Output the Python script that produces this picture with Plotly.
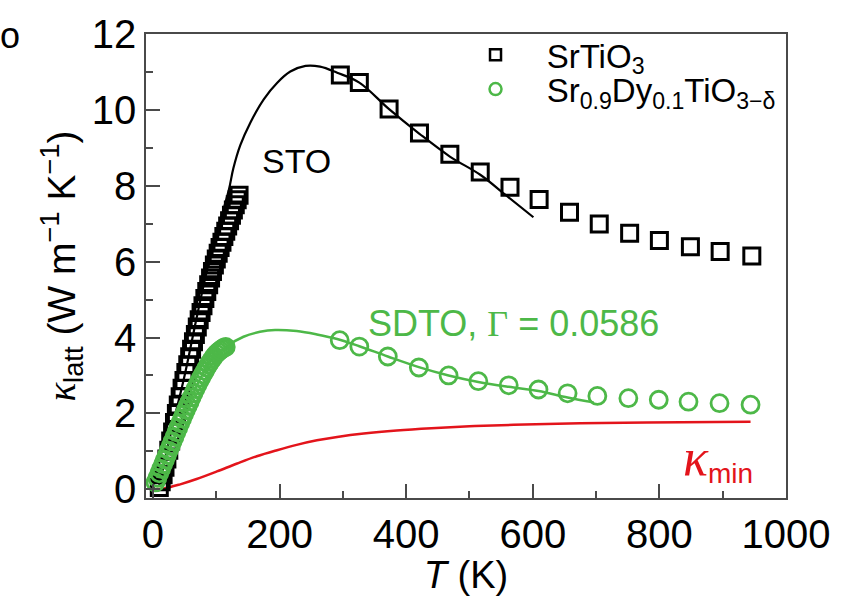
import plotly.graph_objects as go

# ---------------- data ----------------
sto_T_low = [10, 13, 16, 19, 22, 25, 28, 31, 34, 37, 40, 43, 46, 49, 52, 55, 58, 61, 64, 67,
             70, 73, 76, 79, 82, 85, 88, 91, 94, 97, 100, 103, 106, 109, 112, 115, 118, 121,
             124, 127, 130, 133, 136]
sto_k_low = [0.05, 0.2, 0.38, 0.58, 0.8, 1.03, 1.27, 1.51, 1.76, 2.0, 2.22, 2.44, 2.66, 2.87,
             3.08, 3.28, 3.49, 3.69, 3.89, 4.08, 4.28, 4.47, 4.66, 4.84, 5.03, 5.21, 5.39,
             5.57, 5.74, 5.91, 6.07, 6.22, 6.37, 6.51, 6.66, 6.8, 6.94, 7.08, 7.22, 7.36,
             7.5, 7.63, 7.75]
sto_T_high = [296, 326, 373, 421, 469, 517, 564, 610, 658, 705, 753, 800, 849, 896, 946]
sto_k_high = [10.92, 10.72, 10.02, 9.39, 8.83, 8.36, 7.96, 7.64, 7.30, 6.99, 6.75, 6.56,
              6.39, 6.27, 6.15]

sdto_T_low = [4, 7, 10, 13, 16, 19, 22, 25, 28, 31, 34, 37, 40, 43, 46, 49, 52, 55, 58, 61,
              64, 67, 70, 73, 76, 79, 82, 85, 88, 91, 94, 97, 100, 103, 106, 109, 112, 115]
sdto_k_low = [0.18, 0.3, 0.42, 0.54, 0.66, 0.78, 0.9, 1.02, 1.14, 1.26, 1.38, 1.5, 1.62,
              1.74, 1.86, 1.97, 2.09, 2.2, 2.31, 2.42, 2.53, 2.64, 2.74, 2.84, 2.94, 3.03,
              3.12, 3.21, 3.29, 3.37, 3.44, 3.51, 3.57, 3.62, 3.66, 3.7, 3.73, 3.75]
sdto_T_high = [295, 326, 371, 420, 467, 514, 562, 609, 655, 702, 751, 799, 846, 895, 944]
sdto_k_high = [3.93, 3.76, 3.50, 3.21, 3.00, 2.85, 2.74, 2.63, 2.53, 2.46, 2.40, 2.36,
               2.31, 2.27, 2.23]

sto_fit_T = [10, 30, 50, 70, 90, 105, 120, 127, 138, 154, 175, 196, 217, 241, 264, 291,
             326, 373, 421, 469, 517, 559, 601]
sto_fit_k = [0.1, 1.6, 3.0, 4.6, 6.1, 7.0, 7.9, 8.46, 9.07, 9.67, 10.28, 10.71, 11.01,
             11.16, 11.14, 10.98, 10.72, 10.02, 9.37, 8.77, 8.29, 7.73, 7.17]

sdto_fit_T = [5, 30, 60, 90, 118, 143, 169, 193, 227, 259, 291, 326, 371, 420, 467, 514,
              562, 609, 655, 696]
sdto_fit_k = [0.2, 1.2, 2.4, 3.35, 3.78, 4.02, 4.15, 4.2, 4.17, 4.08, 3.96, 3.77, 3.5,
              3.22, 3.0, 2.83, 2.7, 2.59, 2.42, 2.29]

kmin_T = [0, 17, 43, 69, 101, 133, 164, 196, 227, 259, 291, 333, 385, 440, 500, 570, 675,
          780, 944]
kmin_k = [0.0, 0.02, 0.13, 0.27, 0.47, 0.68, 0.87, 1.03, 1.17, 1.29, 1.38, 1.47, 1.55, 1.61,
          1.66, 1.70, 1.74, 1.76, 1.78]

x_ticks = [0, 200, 400, 600, 800, 1000]
y_ticks = [0, 2, 4, 6, 8, 10, 12]

BLACK = "#000000"
GREEN = "#4DB848"
RED = "#E3141B"
AXC = "#4a4a4a"
FONT = "Liberation Sans, Arial, sans-serif"
SERIF = "Liberation Serif"

# plot-area geometry (pixels)
ML, MR, MT, MB = 146, 55, 27, 98
PW, PH = 842 - ML - MR, 596 - MT - MB

fig = go.Figure()

# fit / model lines
fig.add_trace(go.Scatter(x=sto_fit_T, y=sto_fit_k, mode="lines",
                         line=dict(color=BLACK, width=2.2, shape="spline"), showlegend=False))
fig.add_trace(go.Scatter(x=sdto_fit_T, y=sdto_fit_k, mode="lines",
                         line=dict(color=GREEN, width=2.5, shape="spline"), showlegend=False))
fig.add_trace(go.Scatter(x=kmin_T, y=kmin_k, mode="lines",
                         line=dict(color=RED, width=2.5, shape="spline"), showlegend=False))

# data markers
sq = dict(symbol="square-open", size=16, color=BLACK, line=dict(width=3, color=BLACK))
ci = dict(symbol="circle-open", size=17, color=GREEN, line=dict(width=2.8, color=GREEN))
fig.add_trace(go.Scatter(x=sto_T_low + sto_T_high, y=sto_k_low + sto_k_high, mode="markers",
                         marker=sq, showlegend=False))
fig.add_trace(go.Scatter(x=sdto_T_low + sdto_T_high, y=sdto_k_low + sdto_k_high, mode="markers",
                         marker=ci, showlegend=False))

# legend entries (smaller symbols), one per legend so rows can be spaced as in the reference
fig.add_trace(go.Scatter(x=[None], y=[None], mode="markers", name="\u00a0SrTiO<sub>3</sub>",
                         legend="legend",
                         marker=dict(symbol="square-open", size=11, color=BLACK,
                                     line=dict(width=2.5, color=BLACK))))
fig.add_trace(go.Scatter(x=[None], y=[None], mode="markers",
                         name="\u00a0Sr<sub>0.9</sub>Dy<sub>0.1</sub>TiO<sub>3\u2212\u03b4</sub>",
                         legend="legend2",
                         marker=dict(symbol="circle-open", size=12, color=GREEN,
                                     line=dict(width=2.5, color=GREEN))))

axis_common = dict(
    showline=True, linecolor=AXC, linewidth=1.5, mirror=True,
    ticks="inside", tickcolor=AXC, tickwidth=1.5, ticklen=14,
    showgrid=False, zeroline=False,
    tickfont=dict(family=FONT, size=40, color=BLACK),
)

fig.update_xaxes(range=[-11, 1000], tickvals=x_ticks,
                 minor=dict(dtick=100, ticks="inside", ticklen=7, tickcolor=AXC, tickwidth=1.5),
                 title=dict(text="<i>T</i> (K)", font=dict(family=FONT, size=38, color=BLACK), standoff=0),
                 **axis_common)
fig.update_yaxes(range=[-0.23, 12], tickvals=y_ticks,
                 minor=dict(dtick=1, ticks="inside", ticklen=7, tickcolor=AXC, tickwidth=1.5),
                 title=dict(text=f"<span style='font-family:{SERIF}'><i>\u03ba</i></span><sub>latt</sub>"
                                 " (W m<sup>\u22121</sup> K<sup>\u22121</sup>)",
                            font=dict(family=FONT, size=39, color=BLACK), standoff=4),
                 **axis_common)

fig.add_annotation(x=226, y=8.65, text="STO", showarrow=False, xref="x", yref="y",
                   font=dict(family=FONT, size=34, color=BLACK))
fig.add_annotation(x=569, y=4.38, text=f"SDTO, <span style='font-family:{SERIF}'>\u0393</span> = 0.0586",
                   showarrow=False, xref="x", yref="y",
                   font=dict(family=FONT, size=36, color=GREEN))
fig.add_annotation(x=893, y=0.8,
                   text=f"<span style='font-family:{SERIF};font-size:52px'><i>\u03ba</i></span><sub>min</sub>",
                   showarrow=False, xref="x", yref="y",
                   font=dict(family=FONT, size=40, color=RED))
# stray glyph at the top-left corner of the reference image
fig.add_annotation(x=(10 - ML) / PW, y=1 + (MT - 29) / PH, text="o", showarrow=False,
                   xref="paper", yref="paper", xanchor="center", yanchor="middle",
                   font=dict(family=FONT, size=36, color=BLACK))

leg_common = dict(xanchor="left", yanchor="middle", bgcolor="rgba(0,0,0,0)",
                  font=dict(family=FONT, size=33, color=BLACK), itemwidth=74)
fig.update_layout(
    width=842, height=596,
    margin=dict(l=ML, r=MR, t=MT, b=MB),
    paper_bgcolor="white", plot_bgcolor="white",
    font=dict(family=FONT, color=BLACK),
    legend=dict(x=(454 - ML) / PW, y=1 - (48 - MT) / PH, **leg_common),
    legend2=dict(x=(454 - ML) / PW, y=1 - (83 - MT) / PH, **leg_common),
)

fig.write_html("out.html")
